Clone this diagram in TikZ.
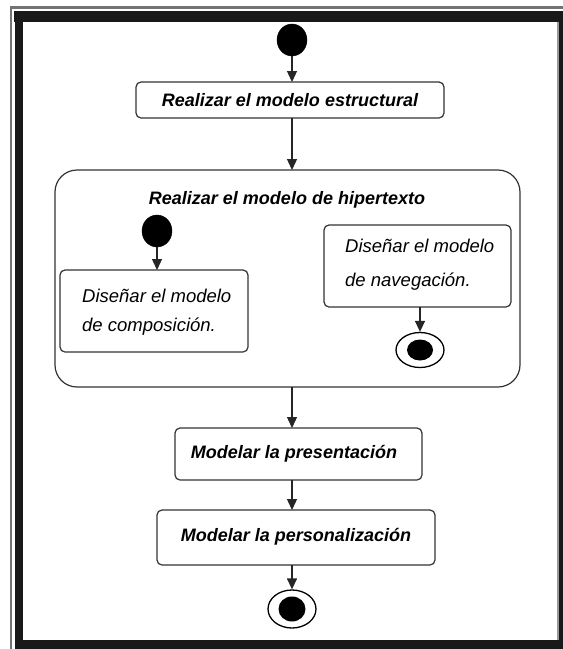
\documentclass[tikz,border=0pt]{standalone}
\usepackage{fontspec}
\setmainfont{Liberation Sans}
\usetikzlibrary{arrows.meta,shapes.geometric}
\begin{document}
\begin{tikzpicture}[x=1pt,y=-1pt,
  flow/.style={draw=black!85,line width=1.3pt,-{Triangle[width=10pt,length=11pt]}},
  act/.style={draw=black!80,line width=1.2pt,rounded corners=5pt,fill=white},
  boldlbl/.style={font=\fontsize{18}{22}\selectfont\bfseries\itshape},
  lbl/.style={font=\fontsize{18.5}{22}\selectfont\itshape,anchor=base west,inner sep=0pt},
  startdot/.style={ellipse,fill=black,draw=black,minimum width=30pt,minimum height=32pt,inner sep=0pt},
  enddot/.style={ellipse,draw=black,line width=1.3pt,fill=white,inner sep=0pt}
]
\useasboundingbox (0,0) rectangle (563,649);
\fill[white] (0,0) rectangle (563,649);
% frame
\fill[black!55] (10,6) rectangle (563,9);
\fill[black!55] (10,6) rectangle (12,649);
\fill[black!90] (14,11) rectangle (563,22);
\fill[black!90] (15,11) rectangle (23,649);
\fill[black!90] (15,640) rectangle (563,649);
\fill[black!90] (559,11) rectangle (563,649);
\fill[black!40] (557,22) rectangle (559,640);

% top start and structural model
\node[startdot] (s0) at (292,40) {};
\draw[act] (136,82) rectangle (444,118);
\node[boldlbl] (a1) at (290,100) {Realizar el modelo estructural};
\coordinate (a1t) at (292,82);
\coordinate (a1b) at (292,118);

% hypertext composite activity
\draw[act,rounded corners=22pt] (55,170) rectangle (520,387);
\coordinate (htop) at (292,170);
\coordinate (hbot) at (292,387);
\node[boldlbl] (ht) at (287,200) {Realizar el modelo de hipertexto};

\node[startdot] (s1) at (157,231) {};
\draw[act] (60,270) rectangle (248,352);
\coordinate (compt) at (157,270);
\node[lbl] (comp1) at (82,302) {Diseñar el modelo};
\node[lbl] (comp2) at (82,331) {de composición.};

\draw[act] (324,225) rectangle (511,307);
\coordinate (navb) at (420,307);
\node[lbl] (nav1) at (345,252) {Diseñar el modelo};
\node[lbl] (nav2) at (345,286) {de navegación.};
\node[enddot,minimum width=48pt,minimum height=35pt] (e1) at (420,350) {};
\node[ellipse,fill=black,minimum width=26pt,minimum height=21pt,inner sep=0pt] (e1i) at (420,350) {};

% presentation and personalisation
\draw[act] (175,428) rectangle (422,480);
\node[boldlbl] (pres) at (294,454) {Modelar la presentación};
\coordinate (prest) at (292,428);
\coordinate (presb) at (292,480);
\draw[act] (157,510) rectangle (435,565);
\node[boldlbl] (pers) at (296,537) {Modelar la personalización};
\coordinate (perst) at (292,510);
\coordinate (persb) at (292,565);

\node[enddot,minimum width=48pt,minimum height=38pt] (e2) at (292,609) {};
\node[ellipse,fill=black,minimum width=27pt,minimum height=25pt,inner sep=0pt] (e2i) at (292,609) {};

% transitions
\draw[flow] (s0) -- (a1t);
\draw[flow] (a1b) -- (htop);
\draw[flow] (s1) -- (compt);
\draw[flow] (navb) -- (e1.north);
\draw[flow] (hbot) -- (prest);
\draw[flow] (presb) -- (perst);
\draw[flow] (persb) -- (e2.north);
\end{tikzpicture}
\end{document}
